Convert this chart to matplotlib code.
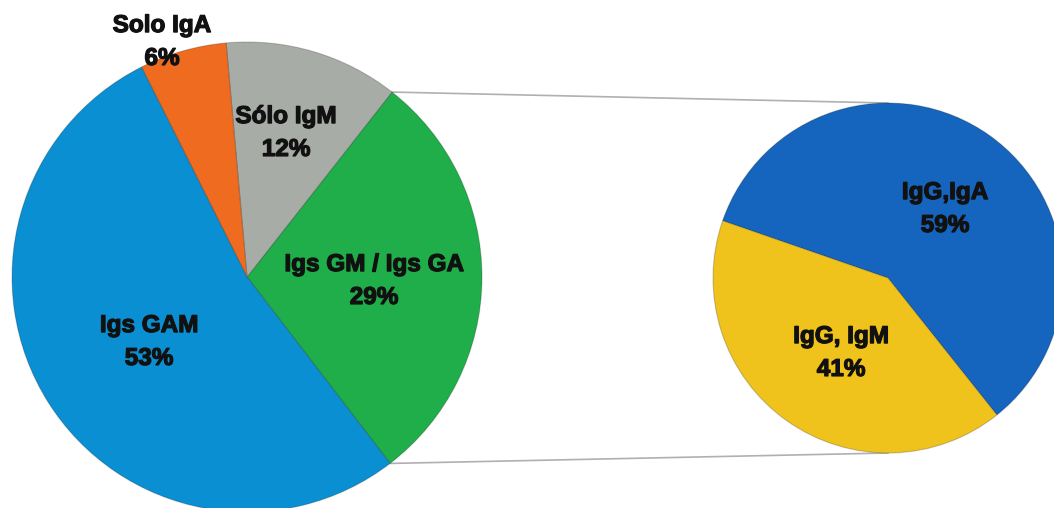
import matplotlib.pyplot as plt
import matplotlib.patheffects as pe
import numpy as np

# main pie
main_labels = ['Igs GM / Igs GA', 'Sólo IgM', 'Solo IgA', 'Igs GAM']
main_values = [29, 12, 6, 53]
main_colors = ['#1fae49', '#a8aca6', '#ee6b1f', '#0b8fd3']

# breakdown of "Igs GM / Igs GA"
sub_labels = ['IgG,IgA', 'IgG, IgM']
sub_values = [59, 41]
sub_colors = ['#1565be', '#efc21c']

W, H = 1054, 508

fig = plt.figure(figsize=(W / 100, H / 100), dpi=100)
ax = fig.add_axes([0, 0, 1, 1])

# pixel positions (y measured from top)
c1, r1, start1 = (247, H - 277), 235, -52.5
c2, r2, start2 = (888, H - 278), 175, -51.5

ax.pie(main_values, colors=main_colors, startangle=start1, center=c1, radius=r1,
       wedgeprops=dict(edgecolor='#00000033', linewidth=0.8), frame=True)
ax.pie(sub_values, colors=sub_colors, startangle=start2, center=c2, radius=r2,
       wedgeprops=dict(edgecolor='#00000033', linewidth=0.8), frame=True)
ax.set_xlim(0, W)
ax.set_ylim(0, H)
ax.set_aspect('equal')
ax.axis('off')

# connector lines from the split slice to the second pie
half = main_values[0] / sum(main_values) * 360 / 2
mid = np.radians(start1 + half)
for sgn in (1, -1):
    a = mid + sgn * np.radians(half)
    x0 = c1[0] + r1 * np.cos(a)
    y0 = c1[1] + r1 * np.sin(a)
    ax.plot([x0, c2[0]], [y0, c2[1] + sgn * r2], color='#b0b0b0', lw=1.2, zorder=0)

font = dict(family=['Liberation Sans', 'DejaVu Sans'], fontweight='bold', fontsize=17.5,
            color='#111111', ha='center', va='center', linespacing=1.55,
            path_effects=[pe.withStroke(linewidth=0.9, foreground='#111111')])

main_pos = [(374, 281), (286, 133), (162, 42), (149, 342)]
for lab, val, (x, y) in zip(main_labels, main_values, main_pos):
    ax.text(x, H - y, f'{lab}\n{val}%', **font)

sub_pos = [(945, 209), (841, 353)]
for lab, val, (x, y) in zip(sub_labels, sub_values, sub_pos):
    ax.text(x, H - y, f'{lab}\n{val}%', **font)

fig.savefig('out.png', dpi=100)
